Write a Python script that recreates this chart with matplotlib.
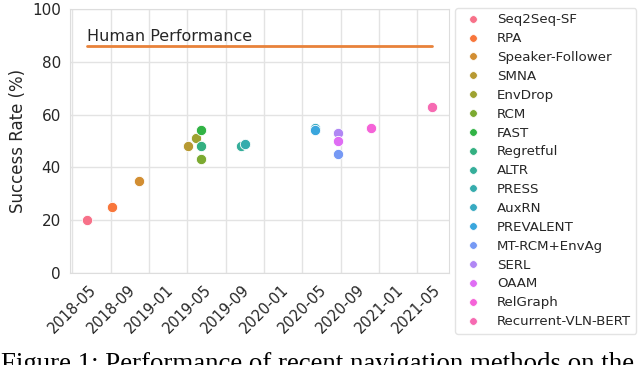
import matplotlib
matplotlib.use("Agg")
import matplotlib.pyplot as plt
import matplotlib.dates as mdates
from matplotlib.lines import Line2D
import seaborn as sns
import pandas as pd

methods = ["Seq2Seq-SF", "RPA", "Speaker-Follower", "SMNA", "EnvDrop", "RCM", "FAST",
           "Regretful", "ALTR", "PRESS", "AuxRN", "PREVALENT", "MT-RCM+EnvAg", "SERL",
           "OAAM", "RelGraph", "Recurrent-VLN-BERT"]
dates = ["2018-06-17", "2018-09-04", "2018-11-29", "2019-05-04", "2019-05-29", "2019-06-14",
         "2019-06-14", "2019-06-14", "2019-10-20", "2019-11-01", "2020-06-11", "2020-06-11",
         "2020-08-23", "2020-08-23", "2020-08-23", "2020-12-06", "2021-06-18"]
success = [20, 25, 35, 48, 51, 43, 54, 48, 48, 49, 55, 54, 45, 53, 50, 55, 63]
human_performance = 86
tick_dates = ["2018-05", "2018-09", "2019-01", "2019-05", "2019-09", "2020-01",
              "2020-05", "2020-09", "2021-01", "2021-05"]

sns.set_style("whitegrid")
plt.rcParams["font.family"] = ["DejaVu Sans"]

fig = plt.figure(figsize=(6.4, 3.65), dpi=100)
ax = fig.add_axes([70/640, 1-273/365, (449-70)/640, (273-9)/365])

d = pd.to_datetime(dates)
colors = sns.color_palette("husl", len(methods))
for i, m in enumerate(methods):
    ax.scatter(d[i], success[i], s=55, color=colors[i], edgecolor="white", linewidth=0.6, zorder=3)

ax.plot([d.min(), d.max()], [human_performance, human_performance], color="#e8823a", lw=2, zorder=2)
ax.text(d.min(), 88, "Human Performance", fontsize=11.5, color="#262626", va="baseline", ha="left")

ax.set_ylim(0, 100)
ax.set_yticks([0, 20, 40, 60, 80, 100])
ax.set_xticks(pd.to_datetime(tick_dates))
ax.xaxis.set_major_formatter(mdates.DateFormatter("%Y-%m"))
ax.tick_params(axis="x", labelsize=10.5, rotation=45, pad=3)
ax.tick_params(axis="y", labelsize=11, pad=3)
for lab in ax.get_xticklabels():
    lab.set_ha("center")
ax.set_ylabel("Success Rate (%)", fontsize=12)
for sp in ax.spines.values():
    sp.set_color("#dddddd")
ax.grid(color="#e3e3e3", lw=1)

handles = [Line2D([], [], marker="o", ls="", markersize=5.5, markerfacecolor=colors[i],
                  markeredgecolor="white", markeredgewidth=0.5) for i in range(len(methods))]
fig.legend(handles, methods, loc="upper left", bbox_to_anchor=(455/640, 1-8/365),
           borderaxespad=0, fontsize=9.6, handlelength=1.95, handletextpad=0.8,
           labelspacing=0.44, frameon=True, edgecolor="#dddddd", fancybox=True)

fig.text(1/640, -6/365, "Figure 1: Performance of recent navigation methods on the",
         fontsize=19.4, family=["Liberation Serif"], va="baseline", ha="left", color="black")

fig.savefig("out.png", dpi=100)
